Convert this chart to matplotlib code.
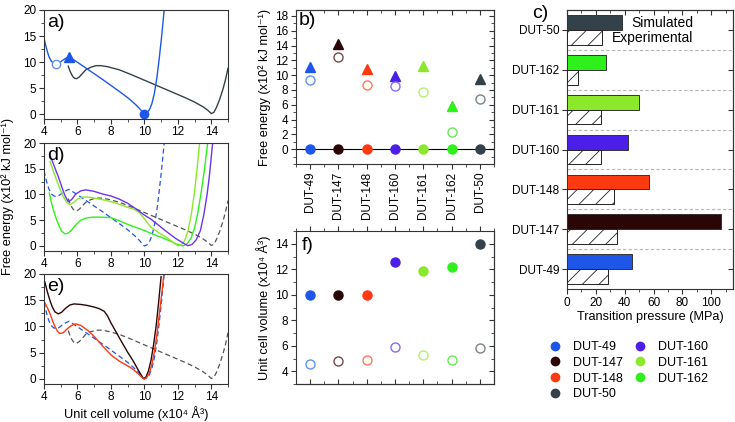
import matplotlib
matplotlib.use("Agg")
import matplotlib.pyplot as plt
from matplotlib.lines import Line2D
from matplotlib.ticker import MultipleLocator

plt.rcParams['font.family'] = ['Liberation Sans', 'DejaVu Sans']
plt.rcParams['hatch.linewidth'] = 0.6
plt.rcParams['axes.linewidth'] = 0.8

# ---------------- data ----------------
names = ['DUT-49', 'DUT-147', 'DUT-148', 'DUT-160', 'DUT-161', 'DUT-162', 'DUT-50']
colors = ['#1e56e8', '#2a0606', '#ff3a10', '#4b1fe8', '#8be82a', '#2ef01a', '#33424a']
light = ['#5e95f0', '#7a4848', '#ff7a55', '#8a6af0', '#b4f06a', '#6ae85a', '#78848a']

# b) free energy (x10^2 kJ/mol)
e_open = [0, 0, 0, 0, 0, 0, 0]
e_barrier = [11.1, 14.2, 10.8, 9.9, 11.3, 5.8, 9.5]
e_closed = [9.4, 12.4, 8.7, 8.5, 7.75, 2.3, 6.8]

# f) unit cell volume (x10^4 A^3)
v_open = [10.0, 10.0, 10.0, 12.6, 11.85, 12.2, 13.95]
v_closed = [4.6, 4.8, 4.9, 5.9, 5.3, 4.85, 5.8]

# c) transition pressure (MPa)
p_sim = [45, 106.5, 57, 42.5, 49.8, 27.1, 38.3]
p_exp = [28.3, 34.8, 32.5, 23.8, 23.4, 7.5, 24.1]

# free energy profiles
V49 = [4.0, 4.1, 4.2, 4.3, 4.45, 4.6, 4.75, 4.9, 5.1, 5.3, 5.5, 6.0, 6.5, 7.0, 7.5, 8.0,
       8.5, 9.0, 9.4, 9.7, 9.9, 10.0, 10.15, 10.3, 10.45, 10.6, 10.75, 10.9, 11.05, 11.2]
E49 = [14.6, 13.2, 12.0, 11.0, 10.1, 9.7, 9.6, 9.8, 10.3, 10.7, 11.0, 9.95, 8.85, 7.75, 6.65, 5.5,
       4.35, 3.15, 2.05, 1.1, 0.35, 0.0, 0.2, 0.8, 2.0, 4.0, 7.0, 11.0, 15.5, 20.5]

V50 = [5.45, 5.55, 5.65, 5.75, 5.85, 5.95, 6.1, 6.3, 6.5, 6.8, 7.1, 7.4, 7.8, 8.5, 9.2, 10.0,
       10.8, 11.6, 12.4, 13.0, 13.5, 13.8, 14.0, 14.15, 14.3, 14.5, 14.7, 14.85, 15.0]
E50 = [9.2, 8.3, 7.6, 7.1, 6.85, 6.8, 7.1, 7.8, 8.5, 9.0, 9.3, 9.3, 9.1, 8.5, 7.6, 6.5,
       5.4, 4.3, 3.2, 2.3, 1.4, 0.7, 0.1, 0.3, 1.2, 2.8, 4.8, 6.6, 8.8]

V160 = [4.35, 4.6, 4.85, 5.05, 5.25, 5.45, 5.65, 5.9, 6.2, 6.5, 7.0, 7.5, 8.0, 8.5, 9.0, 9.5,
        10.0, 10.4, 10.9, 11.4, 11.9, 12.3, 12.6, 12.85, 13.1, 13.35, 13.55, 13.75, 13.9, 14.05, 14.15]
E160 = [17.7, 15.6, 13.5, 11.6, 9.8, 8.6, 9.0, 10.1, 10.7, 10.9, 10.6, 10.1, 9.7, 9.1, 8.3, 7.2,
        6.0, 5.2, 3.9, 2.6, 1.4, 0.6, 0.05, 0.3, 1.2, 3.0, 6.0, 10.0, 14.0, 19.0, 22.0]

V161 = [4.36, 4.55, 4.75, 4.95, 5.15, 5.35, 5.55, 5.75, 6.0, 6.3, 6.6, 7.0, 7.5, 8.0, 8.5, 9.0,
        9.4, 9.7, 10.0, 10.4, 10.9, 11.4, 11.8, 12.0, 12.2, 12.4, 12.6, 12.8, 13.0, 13.15, 13.3, 13.4]
E161 = [16.4, 14.6, 12.8, 11.1, 9.6, 8.5, 8.0, 8.4, 9.1, 9.5, 9.5, 9.3, 9.0, 8.6, 8.1, 7.5,
        7.1, 6.5, 5.3, 3.6, 2.5, 1.5, 0.5, 0.05, 0.2, 1.0, 2.8, 6.0, 10.5, 15.0, 20.0, 23.0]

V162 = [4.32, 4.45, 4.6, 4.75, 4.9, 5.05, 5.25, 5.45, 5.65, 5.9, 6.2, 6.5, 6.9, 7.4, 8.0, 8.5,
        9.0, 9.5, 10.0, 10.5, 11.0, 11.5, 11.9, 12.3, 12.55, 12.8, 13.0, 13.2, 13.4, 13.6, 13.8]
E162 = [10.3, 8.3, 6.6, 5.1, 3.9, 2.9, 2.35, 2.5, 3.1, 4.1, 5.0, 5.4, 5.6, 5.6, 5.5, 4.9,
        4.2, 3.6, 3.0, 2.3, 1.7, 1.0, 0.4, 0.0, 0.4, 1.6, 3.5, 6.5, 10.5, 15.0, 20.5]

V147 = [4.05, 4.2, 4.35, 4.5, 4.65, 4.85, 5.05, 5.3, 5.55, 5.8, 6.2, 6.6, 7.0, 7.3, 7.6, 7.8,
        8.0, 8.3, 8.6, 9.0, 9.3, 9.6, 9.8, 9.95, 10.1, 10.25, 10.4, 10.55, 10.7, 10.85, 11.0]
E147 = [18.5, 16.6, 15.0, 13.7, 12.8, 12.4, 12.7, 13.5, 14.1, 14.3, 14.2, 14.0, 13.7, 13.4, 12.9, 12.0,
        10.7, 9.0, 7.3, 5.1, 3.6, 1.9, 0.8, 0.05, 0.4, 1.6, 3.6, 6.5, 10.0, 14.5, 19.5]

V148 = [4.05, 4.2, 4.35, 4.5, 4.65, 4.8, 4.95, 5.15, 5.4, 5.65, 5.9, 6.2, 6.6, 7.0, 7.5, 8.0,
        8.5, 9.0, 9.3, 9.6, 9.85, 10.0, 10.15, 10.3, 10.45, 10.6, 10.75, 10.9, 11.05, 11.2]
E148 = [14.5, 13.6, 12.5, 11.2, 10.0, 9.1, 8.65, 8.8, 9.6, 10.2, 10.5, 10.2, 9.3, 8.1, 6.3, 4.6,
        3.4, 2.5, 1.9, 1.1, 0.3, 0.0, 0.3, 1.2, 2.8, 5.2, 8.5, 12.5, 16.5, 21.0]

# a) markers on the DUT-49 profile
mark_v = [4.72, 5.5, 10.0]
mark_e = [9.6, 11.0, 0.0]

# ---------------- figure ----------------
fig = plt.figure(figsize=(7.35, 4.22), dpi=100)
W, H = 735.0, 422.0


def box(l, t, r, b):
    return [l / W, 1 - b / H, (r - l) / W, (b - t) / H]


TS = 8.5     # tick labels
LS = 9.2     # axis labels
CS = 9.5     # category labels
PS = 14      # panel letters
spine_c = '#333333'


def frame(ax):
    for s in ax.spines.values():
        s.set_color(spine_c)
    ax.tick_params(which='both', labelsize=TS, pad=2, color=spine_c)
    ax.tick_params(which='major', length=3.5)
    ax.tick_params(which='minor', length=2)


def style_profile(ax):
    ax.set_xlim(4, 15)
    ax.set_ylim(-0.9, 20)
    ax.xaxis.set_major_locator(MultipleLocator(2))
    ax.xaxis.set_minor_locator(MultipleLocator(1))
    ax.yaxis.set_major_locator(MultipleLocator(5))
    ax.yaxis.set_minor_locator(MultipleLocator(2.5))
    frame(ax)
    ax.tick_params(which='both', direction='out')


dash_b = (0, (4, 2.5))
dash_g = (0, (4, 2.5))

ax_a = fig.add_axes(box(44, 10, 228, 118.7))
style_profile(ax_a)
ax_a.plot(V50, E50, color=colors[6], lw=1.0)
ax_a.plot(V49, E49, color=colors[0], lw=1.0)
ax_a.plot(mark_v[0], mark_e[0], 'o', ms=6, mfc='white', mec=light[0], mew=1)
ax_a.plot(mark_v[1], mark_e[1], '^', ms=7, color=colors[0])
ax_a.plot(mark_v[2], mark_e[2], 'o', ms=6, color=colors[0])
ax_a.text(0.015, 0.96, 'a)', transform=ax_a.transAxes, fontsize=PS, va='top')

ax_d = fig.add_axes(box(44, 143, 228, 250.6))
style_profile(ax_d)
ax_d.plot(V50, E50, color='#555555', lw=0.9, ls=dash_g)
ax_d.plot(V49, E49, color=colors[0], lw=0.9, ls=dash_b)
ax_d.plot(V162, E162, color=colors[5], lw=1.0)
ax_d.plot(V161, E161, color=colors[4], lw=1.0)
ax_d.plot(V160, E160, color='#6a35ee', lw=1.0)
ax_d.text(0.015, 0.96, 'd)', transform=ax_d.transAxes, fontsize=PS, va='top')

ax_e = fig.add_axes(box(44, 274, 228, 383.7))
style_profile(ax_e)
ax_e.plot(V50, E50, color='#555555', lw=0.9, ls=dash_g)
ax_e.plot(V49, E49, color=colors[0], lw=0.9, ls=dash_b)
ax_e.plot(V147, E147, color=colors[1], lw=1.0)
ax_e.plot(V148, E148, color=colors[2], lw=1.0)
ax_e.text(0.015, 0.96, 'e)', transform=ax_e.transAxes, fontsize=PS, va='top')
ax_e.set_xlabel('Unit cell volume (x10⁴ Å³)', fontsize=LS, labelpad=2)

fig.text(8 / W, 1 - 196 / H, 'Free energy (x10² kJ mol⁻¹)', rotation=90,
         ha='center', va='center', fontsize=LS)

# b) energies
xs = list(range(len(names)))
ax_b = fig.add_axes(box(296, 10, 494, 164))
ax_b.set_xlim(-0.5, 6.5)
ax_b.set_ylim(-2, 18.8)
ax_b.axhline(0, color='black', lw=0.8, zorder=1)
for i in xs:
    ax_b.plot(xs[i], e_barrier[i], '^', ms=7.5, color=colors[i], zorder=3)
    ax_b.plot(xs[i], e_closed[i], 'o', ms=6.5, mfc='white', mec=light[i], mew=1, zorder=3)
    ax_b.plot(xs[i], e_open[i], 'o', ms=6.5, color=colors[i], zorder=3)
ax_b.set_xticks(xs)
ax_b.set_xticklabels(names, rotation=90, fontsize=CS)
ax_b.xaxis.set_minor_locator(MultipleLocator(0.5))
ax_b.set_yticks(range(0, 19, 2))
ax_b.yaxis.set_minor_locator(MultipleLocator(1))
frame(ax_b)
ax_b.tick_params(which='both', direction='out')
ax_b.set_ylabel('Free energy (x10² kJ mol⁻¹)', fontsize=LS)
ax_b.yaxis.set_label_coords(-25 / 198, 0.5)
ax_b.text(0.015, 0.985, 'b)', transform=ax_b.transAxes, fontsize=PS, va='top')
top_b = ax_b.secondary_xaxis('top')
top_b.set_xticks(xs)
top_b.xaxis.set_minor_locator(MultipleLocator(0.5))
right_b = ax_b.secondary_yaxis('right')
right_b.set_yticks(range(0, 19, 2))
right_b.yaxis.set_minor_locator(MultipleLocator(1))
for sec in (top_b, right_b):
    frame(sec)
    sec.tick_params(which='both', direction='in', labeltop=False, labelright=False)

# f) volumes
ax_f = fig.add_axes(box(296, 231, 494, 384))
ax_f.set_xlim(-0.5, 6.5)
ax_f.set_ylim(3, 15)
for i in xs:
    ax_f.plot(xs[i], v_open[i], 'o', ms=6.5, color=colors[i])
    ax_f.plot(xs[i], v_closed[i], 'o', ms=6.5, mfc='white', mec=light[i], mew=1)
ax_f.set_xticks(xs)
ax_f.xaxis.set_minor_locator(MultipleLocator(0.5))
ax_f.yaxis.set_major_locator(MultipleLocator(2))
ax_f.yaxis.set_minor_locator(MultipleLocator(1))
frame(ax_f)
ax_f.tick_params(which='both', direction='out', bottom=False, labelbottom=False, top=True)
ax_f.set_ylabel('Unit cell volume (x10⁴ Å³)', fontsize=LS)
ax_f.yaxis.set_label_coords(-25 / 198, 0.5)
ax_f.text(0.03, 0.96, 'f)', transform=ax_f.transAxes, fontsize=PS, va='top')
bot_f = ax_f.secondary_xaxis('bottom')
bot_f.set_xticks(xs)
bot_f.xaxis.set_minor_locator(MultipleLocator(0.5))
right_f = ax_f.secondary_yaxis('right')
right_f.yaxis.set_major_locator(MultipleLocator(2))
right_f.yaxis.set_minor_locator(MultipleLocator(1))
for sec in (bot_f, right_f):
    frame(sec)
    sec.tick_params(which='both', direction='in', labelbottom=False, labelright=False)

# c) transition pressures
ax_c = fig.add_axes(box(567, 10, 733, 289))
bh = 0.37
ax_c.barh([y + bh / 2 for y in xs], p_sim, height=bh, color=colors, edgecolor='#333333',
          lw=0.7, zorder=3)
ax_c.barh([y - bh / 2 for y in xs], p_exp, height=bh, color='white', edgecolor='#222222',
          hatch='//', lw=0.7, zorder=3)
for k in range(len(names) - 1):
    ax_c.axhline(k + 0.5, color='#b5b5b5', lw=0.8, ls=(0, (3, 2)), zorder=1)
ax_c.set_xlim(0, 115)
ax_c.set_ylim(-0.5, 6.5)
ax_c.set_yticks(xs)
ax_c.set_yticklabels(names, fontsize=CS)
ax_c.xaxis.set_major_locator(MultipleLocator(20))
ax_c.xaxis.set_minor_locator(MultipleLocator(10))
frame(ax_c)
ax_c.tick_params(which='both', direction='out')
ax_c.set_xlabel('Transition pressure (MPa)', fontsize=LS, labelpad=2)
ax_c.text(87.5, 6.17, 'Simulated', ha='right', va='center', fontsize=10)
ax_c.text(87.5, 5.79, 'Experimental', ha='right', va='center', fontsize=10)
right_c = ax_c.secondary_yaxis('right')
right_c.set_yticks(xs)
top_c = ax_c.secondary_xaxis('top')
top_c.xaxis.set_major_locator(MultipleLocator(20))
top_c.xaxis.set_minor_locator(MultipleLocator(10))
for sec in (right_c, top_c):
    frame(sec)
    sec.tick_params(which='both', direction='in', labelright=False, labeltop=False)
right_c.tick_params(which='minor', right=False)
fig.text(540 / W, 1 - 13 / H, 'c)', fontsize=PS, ha='center', va='center')

# legend
order = [0, 1, 2, 6, 3, 4, 5]
handles = [Line2D([], [], ls='none', marker='o', ms=6, color=colors[i]) for i in order]
labels = [names[i] for i in order]
fig.legend(handles, labels, ncol=2, loc='upper left', bbox_to_anchor=(544 / W, 1 - 336 / H),
           frameon=False, fontsize=9, handlelength=1.0, handletextpad=0.9,
           columnspacing=0.9, labelspacing=0.3, borderaxespad=0, borderpad=0.4)

fig.savefig('out.png', dpi=100)
